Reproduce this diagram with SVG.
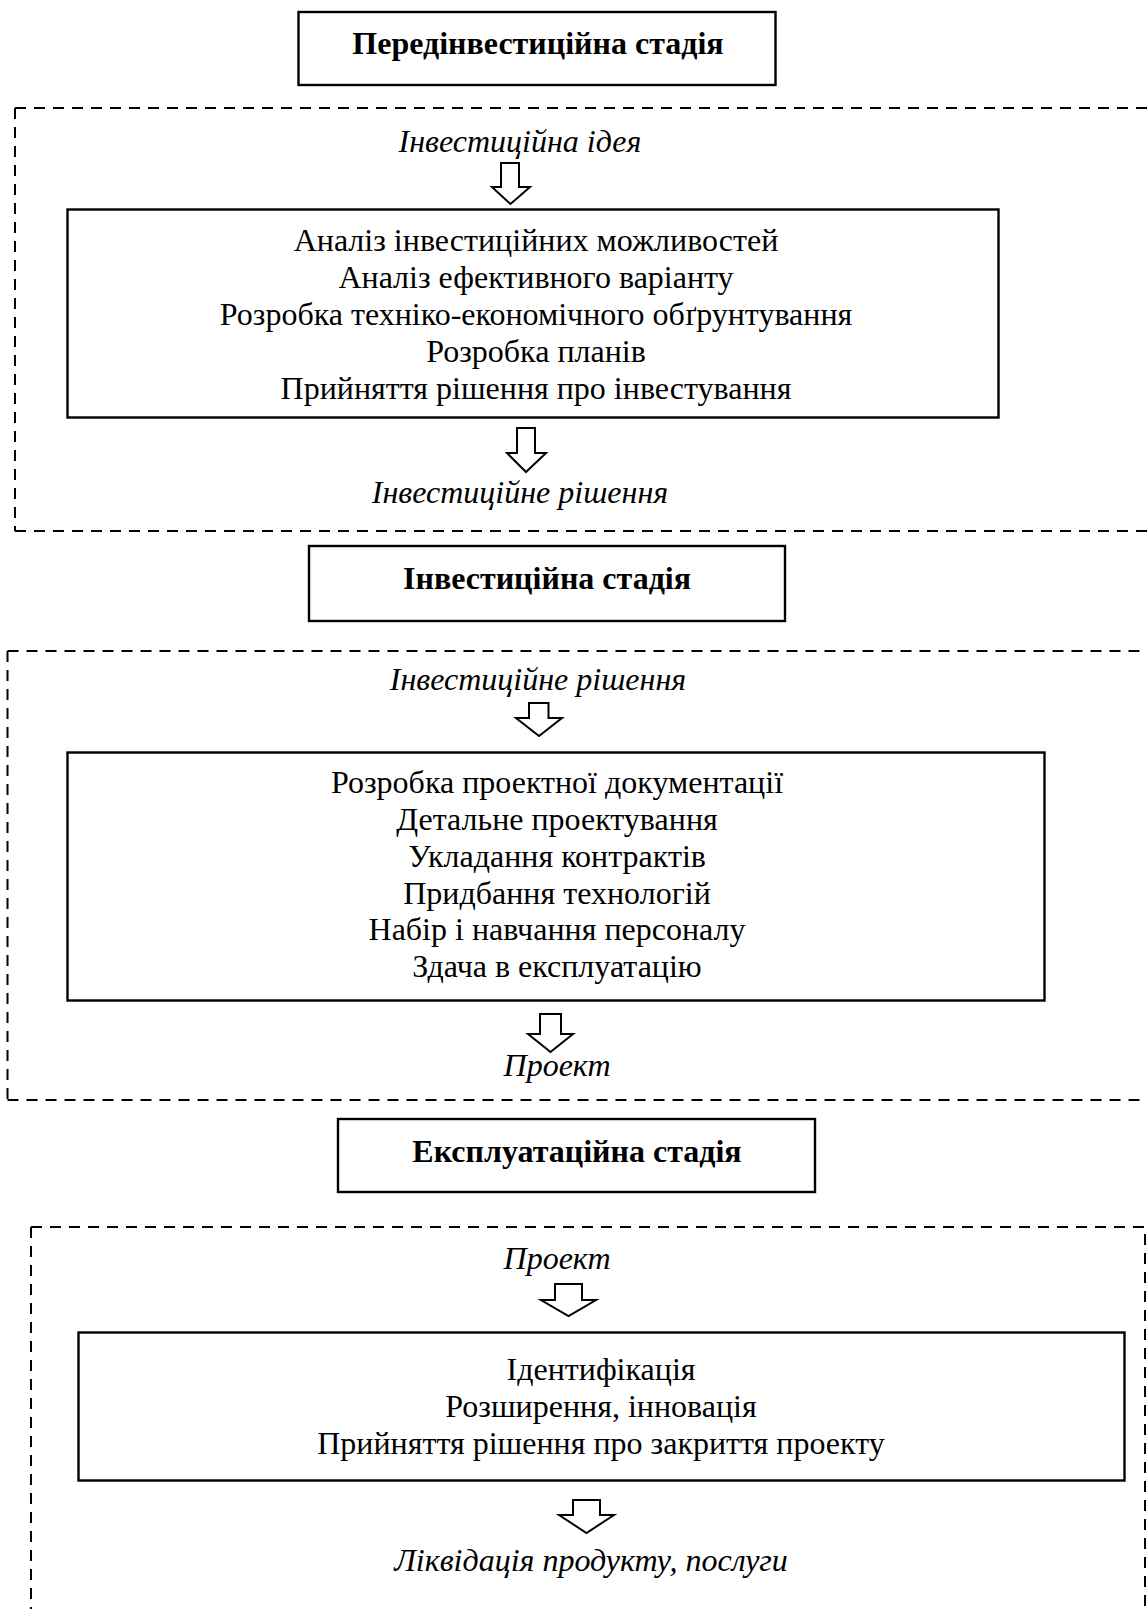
<svg xmlns="http://www.w3.org/2000/svg" width="1147" height="1609" viewBox="0 0 1147 1609">
<style>
  .bg{fill:#fff}
  .box{fill:#fff;stroke:#000;stroke-width:2.4}
  .dash{fill:none;stroke:#000;stroke-width:2;stroke-dasharray:11 8}
  .arrow{fill:#fff;stroke:#000;stroke-width:2;stroke-linejoin:miter}
  text{font-family:"Liberation Serif","Times New Roman",serif;font-size:32px;fill:#000;text-anchor:middle}
  .title{font-weight:bold}
  .lbl{font-style:italic}
</style>
<rect class="bg" width="1147" height="1609"/>
<g id="frames">
  <path class="dash" d="M15,108 H1160 M15,108 V531 M15,531 H1160"/>
  <path class="dash" d="M7.5,651 H1160 M7.5,651 V1100 M7.5,1100 H1160"/>
  <path class="dash" d="M31,1227 H1145 V1620 M31,1227 V1620"/>
</g>
<g id="stage1">
  <rect class="box" x="298.5" y="12" width="477" height="73"/>
  <text class="title" x="538" y="54">Передінвестиційна стадія</text>
</g>
<g id="idea">
  <text class="lbl" x="520" y="152">Інвестиційна ідея</text>
</g>
<g id="box1">
  <rect class="box" x="67.5" y="209.5" width="931" height="208"/>
  <text x="536" y="251">Аналіз інвестиційних можливостей</text>
  <text x="536" y="288">Аналіз ефективного варіанту</text>
  <text x="536" y="325">Розробка техніко-економічного обґрунтування</text>
  <text x="536" y="361.5">Розробка планів</text>
  <text x="536" y="398.5">Прийняття рішення про інвестування</text>
</g>
<g id="decision1">
  <text class="lbl" x="520" y="503">Інвестиційне рішення</text>
</g>
<g id="stage2">
  <rect class="box" x="309" y="546" width="476" height="75"/>
  <text class="title" x="547" y="589">Інвестиційна стадія</text>
</g>
<g id="decision2">
  <text class="lbl" x="538" y="690">Інвестиційне рішення</text>
</g>
<g id="box2">
  <rect class="box" x="67.5" y="752.5" width="977" height="248"/>
  <text x="557" y="793">Розробка проектної документації</text>
  <text x="557" y="830">Детальне проектування</text>
  <text x="557" y="866.5">Укладання контрактів</text>
  <text x="557" y="903.5">Придбання технологій</text>
  <text x="557" y="940">Набір і навчання персоналу</text>
  <text x="557" y="977">Здача в експлуатацію</text>
</g>
<g id="project1">
  <text class="lbl" x="557" y="1076">Проект</text>
</g>
<g id="stage3">
  <rect class="box" x="338" y="1119" width="477" height="73"/>
  <text class="title" x="577" y="1162">Експлуатаційна стадія</text>
</g>
<g id="project2">
  <text class="lbl" x="557" y="1269">Проект</text>
</g>
<g id="box3">
  <rect class="box" x="78.5" y="1332.5" width="1046" height="148"/>
  <text x="601" y="1380">Ідентифікація</text>
  <text x="601" y="1417">Розширення, інновація</text>
  <text x="601" y="1454">Прийняття рішення про закриття проекту</text>
</g>
<g id="liquidation">
  <text class="lbl" x="591" y="1571">Ліквідація продукту, послуги</text>
</g>
<g id="connectors">
  <path class="arrow" d="M501,163 H519 V187 H530 L510.5,204 L492,187 H501 Z"/>
  <path class="arrow" d="M517,428 H535 V453 H546 L526,472 L507,453 H517 Z"/>
  <path class="arrow" d="M529,703 H548.5 V718 H562 L539,736 L516,718 H529 Z"/>
  <path class="arrow" d="M540,1014 H561 V1034 H573 L550.5,1052 L528,1034 H540 Z"/>
  <path class="arrow" d="M555,1284 H582 V1300 H596 L568.5,1316 L541,1300 H555 Z"/>
  <path class="arrow" d="M573,1500 H600 V1515 H614 L586.5,1533 L559,1515 H573 Z"/>
</g>
</svg>
